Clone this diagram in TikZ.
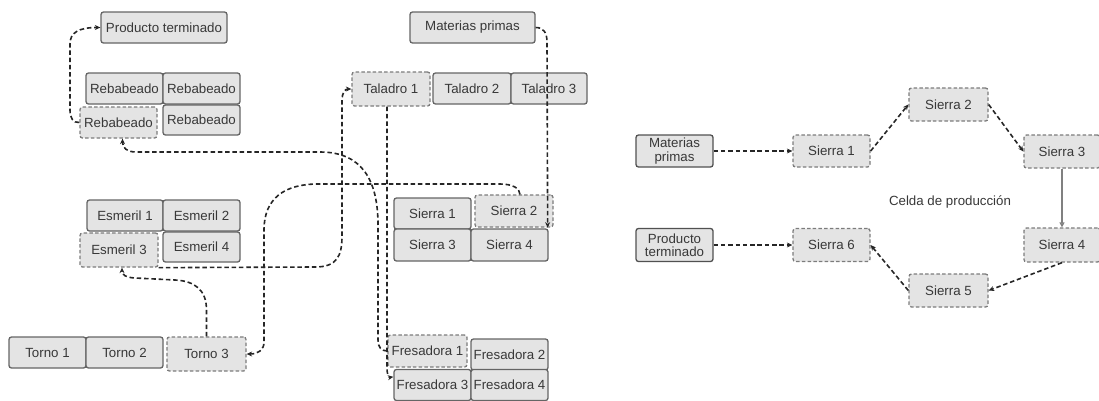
\documentclass[tikz,border=0pt]{standalone}
\usepackage{fontspec}
\setmainfont{Liberation Sans}
\usetikzlibrary{arrows.meta,calc}
\definecolor{boxfill}{HTML}{E4E4E4}
\definecolor{boxline}{HTML}{656565}
\definecolor{txt}{HTML}{383838}
\definecolor{flowc}{HTML}{262626}
\tikzset{
  mach/.style={draw=boxline, line width=1.3pt, fill=boxfill, rounded corners=2.5pt, inner sep=0pt,
    text=txt, font=\fontsize{13.3}{13.3}\selectfont, align=center},
  sel/.style={mach, draw=boxline!85, dash pattern=on 3.5pt off 2.2pt},
  wh/.style 2 args={minimum width=#1pt, minimum height=#2pt},
  flow/.style={draw=flowc, line width=1.6pt, dash pattern=on 4.5pt off 2.8pt,
    -{Stealth[length=5.5pt,width=5pt]}},
  solidflow/.style={draw=gray, line width=1.3pt, -{Triangle[open,length=5pt,width=5pt]}},
  lbl/.style={text=txt, font=\fontsize{13.3}{13.3}\selectfont}
}
\begin{document}
\begin{tikzpicture}[x=1pt,y=-1pt]
\useasboundingbox (0,0) rectangle (1099,400);
% ---------- left layout ----------
\node[mach, wh={126}{31}] (pt) at (164,27.5) {Producto terminado};
\node[mach, wh={77}{31}] (r1) at (124.5,88.5) {Rebabeado};
\node[mach, wh={77}{31}] (r2) at (201.5,88.5) {Rebabeado};
\node[sel,  wh={77}{31}] (r3) at (118.5,122.5) {Rebabeado};
\node[mach, wh={77}{30}] (r4) at (201.5,120) {Rebabeado};
\node[mach, wh={125}{31}] (mp) at (472.5,27.5) {Materias primas};
\node[sel,  wh={78}{34}] (t1) at (391,89) {Taladro 1};
\node[mach, wh={78}{31}] (t2) at (472,88.5) {Taladro 2};
\node[mach, wh={76}{31}] (t3) at (549,88.5) {Taladro 3};
\node[mach, wh={76}{31}] (e1) at (125,215.5) {Esmeril 1};
\node[mach, wh={77}{31}] (e2) at (201.5,215.5) {Esmeril 2};
\node[sel,  wh={78}{34}] (e3) at (119,250) {Esmeril 3};
\node[mach, wh={77}{30}] (e4) at (201.5,247) {Esmeril 4};
\node[mach, wh={77}{31}] (to1) at (47.5,352.5) {Torno 1};
\node[mach, wh={77}{31}] (to2) at (124.5,352.5) {Torno 2};
\node[sel,  wh={79}{34}] (to3) at (206.5,354) {Torno 3};
\node[mach, wh={77}{31}] (s1) at (432.5,213.5) {Sierra 1};
\node[sel,  wh={78}{32}] (s2) at (514,211) {Sierra 2};
\node[mach, wh={77}{32}] (s3) at (432.5,245) {Sierra 3};
\node[mach, wh={77}{32}] (s4) at (509.5,245) {Sierra 4};
\node[sel,  wh={79}{32}] (f1) at (427.5,351) {Fresadora 1};
\node[mach, wh={77}{31}] (f2) at (509.5,354.5) {Fresadora 2};
\node[mach, wh={77}{31}] (f3) at (432.5,385) {Fresadora 3};
\node[mach, wh={77}{31}] (f4) at (509.5,385) {Fresadora 4};
% ---------- left connectors ----------
\draw[flow] (mp.east) .. controls (543,27.5) and (547,32) .. (547,42) -- ($(s2.south east)+(-6,0)$);
\draw[flow] ($(s2.north)+(6,0)$) .. controls (520,188) and (512,184) .. (500,184) -- (318,184)
  .. controls (285,184) and (264,198) .. (264,230) -- (264,342)
  .. controls (264,350) and (258,354) .. (to3.east);
\draw[flow] (to3.north) -- (206.5,310) .. controls (206.5,290) and (195,281) .. (175,280) -- (135,278)
  .. controls (126,277.5) and (122,275) .. ($(e3.south)+(3,0)$);
\draw[flow] (e3.south east) -- (315,267) .. controls (337,267) and (342,256) .. (342,236) -- (342,100)
  .. controls (342,93) and (345,89) .. (t1.west);
\draw[flow] ($(t1.south)+(-4,0)$) -- (387,368) .. controls (387,375) and (389,377.5) .. ($(f3.north west)+(0,8)$);
\draw[flow] (f1.west) .. controls (381,351) and (378,347) .. (378,340) -- (378,225)
  .. controls (378,180) and (362,152) .. (320,152) -- (136,152)
  .. controls (127,152) and (122.5,148) .. ($(r3.south)+(4,0)$);
\draw[flow] (r3.west) .. controls (73,123) and (70,118) .. (70,110) -- (70,44)
  .. controls (70,33) and (78,27.5) .. (pt.west);
% ---------- right layout ----------
\node[mach, wh={77}{32}, draw=boxline!80!black] (rmp) at (674.5,151) {Materias\\primas};
\node[sel,  wh={77}{32}] (rs1) at (831.5,151) {Sierra 1};
\node[sel,  wh={79}{33}] (rs2) at (948.5,104.5) {Sierra 2};
\node[sel,  wh={76}{33}] (rs3) at (1062,151.5) {Sierra 3};
\node[sel,  wh={76}{34}] (rs4) at (1062,245) {Sierra 4};
\node[sel,  wh={79}{33}] (rs5) at (948.5,290.5) {Sierra 5};
\node[sel,  wh={77}{33}] (rs6) at (831.5,245) {Sierra 6};
\node[mach, wh={77}{33}, draw=boxline!80!black] (rpt) at (674.5,245) {Producto\\terminado};
\node[lbl] (cell) at (950,202) {Celda de producción};
% ---------- right connectors ----------
\draw[flow] (rmp.east) -- (rs1.west);
\draw[flow] (rs1.east) -- (rs2.west);
\draw[flow] (rs2.east) -- (rs3.west);
\draw[solidflow] (rs3.south) -- (rs4.north);
\draw[flow] (rs4.south) -- (rs5.east);
\draw[flow] (rs5.west) -- (rs6.east);
\draw[flow] (rpt.east) -- (rs6.west);
\end{tikzpicture}
\end{document}
